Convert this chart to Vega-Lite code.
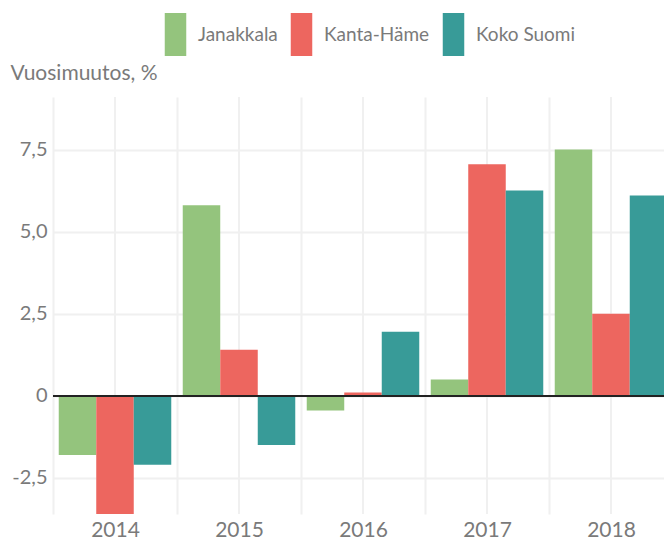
{
  "$schema": "https://vega.github.io/schema/vega-lite/v6.json",
  "width": 620,
  "height": 417,
  "autosize": {"type": "none"},
  "padding": {"left": 53, "top": 97, "right": 0, "bottom": 27},
  "background": "white",
  "config": {"view": {"stroke": null}, "font": "Lato"},
  "data": {
    "values": [
      {"vuosi": "2014", "alue": "Janakkala", "muutos": -1.8},
      {"vuosi": "2014", "alue": "Kanta-Häme", "muutos": -3.7},
      {"vuosi": "2014", "alue": "Koko Suomi", "muutos": -2.1},
      {"vuosi": "2015", "alue": "Janakkala", "muutos": 5.8},
      {"vuosi": "2015", "alue": "Kanta-Häme", "muutos": 1.4},
      {"vuosi": "2015", "alue": "Koko Suomi", "muutos": -1.5},
      {"vuosi": "2016", "alue": "Janakkala", "muutos": -0.45},
      {"vuosi": "2016", "alue": "Kanta-Häme", "muutos": 0.1},
      {"vuosi": "2016", "alue": "Koko Suomi", "muutos": 1.95},
      {"vuosi": "2017", "alue": "Janakkala", "muutos": 0.5},
      {"vuosi": "2017", "alue": "Kanta-Häme", "muutos": 7.05},
      {"vuosi": "2017", "alue": "Koko Suomi", "muutos": 6.25},
      {"vuosi": "2018", "alue": "Janakkala", "muutos": 7.5},
      {"vuosi": "2018", "alue": "Kanta-Häme", "muutos": 2.5},
      {"vuosi": "2018", "alue": "Koko Suomi", "muutos": 6.1}
    ]
  },
  "layer": [
    {
      "mark": {"type": "rule", "color": "#f0f0f0", "strokeWidth": 2},
      "encoding": {
        "x": {
          "field": "vuosi",
          "type": "ordinal",
          "bandPosition": 0.5,
          "scale": {"paddingInner": 0, "paddingOuter": 0},
          "axis": {
            "title": null,
            "labelAngle": 0,
            "domain": false,
            "ticks": false,
            "labelFontSize": 21,
            "labelColor": "#7a7a7a",
            "labelPadding": 5,
            "grid": true,
            "tickBand": "extent",
            "gridColor": "#f0f0f0",
            "gridWidth": 2
          }
        }
      }
    },
    {
      "mark": {"type": "bar", "clip": true},
      "encoding": {
        "x": {"field": "vuosi", "type": "ordinal"},
        "xOffset": {"field": "alue", "scale": {"paddingInner": 0, "paddingOuter": 0.153}},
        "y": {
          "field": "muutos",
          "type": "quantitative",
          "scale": {"domain": [-3.6, 9.1], "nice": false, "zero": false},
          "axis": {
            "title": "Vuosimuutos, %",
            "values": [-2.5, 0, 2.5, 5, 7.5],
            "labelExpr": "datum.value == 0 ? '0' : replace(replace(format(datum.value, '.1f'), '.', ','), '\u2212', '-')",
            "domain": false,
            "ticks": false,
            "labelPadding": 6,
            "labelFontSize": 20,
            "labelColor": "#7a7a7a",
            "grid": true,
            "gridColor": "#f0f0f0",
            "gridWidth": 2,
            "titleAngle": 0,
            "titleAlign": "left",
            "titleBaseline": "alphabetic",
            "titleX": -43,
            "titleY": -18,
            "titleFontSize": 21,
            "titleFontWeight": "normal",
            "titleColor": "#7a7a7a"
          }
        },
        "color": {
          "field": "alue",
          "type": "nominal",
          "scale": {"range": ["#94c47d", "#ed665f", "#389b98"]},
          "legend": {
            "orient": "none",
            "direction": "horizontal",
            "legendX": 101,
            "legendY": -84,
            "title": null,
            "padding": 0,
            "symbolType": "M-0.5,-1V1H0.5V-1Z",
            "symbolSize": 1849,
            "symbolStrokeWidth": 0,
            "symbolOpacity": 1,
            "labelFontSize": 19,
            "labelColor": "#7a7a7a",
            "labelOffset": 1,
            "columnPadding": 2
          }
        }
      }
    },
    {
      "mark": {"type": "rule", "color": "#222222", "strokeWidth": 1.5},
      "encoding": {"y": {"datum": 0}}
    }
  ]
}
